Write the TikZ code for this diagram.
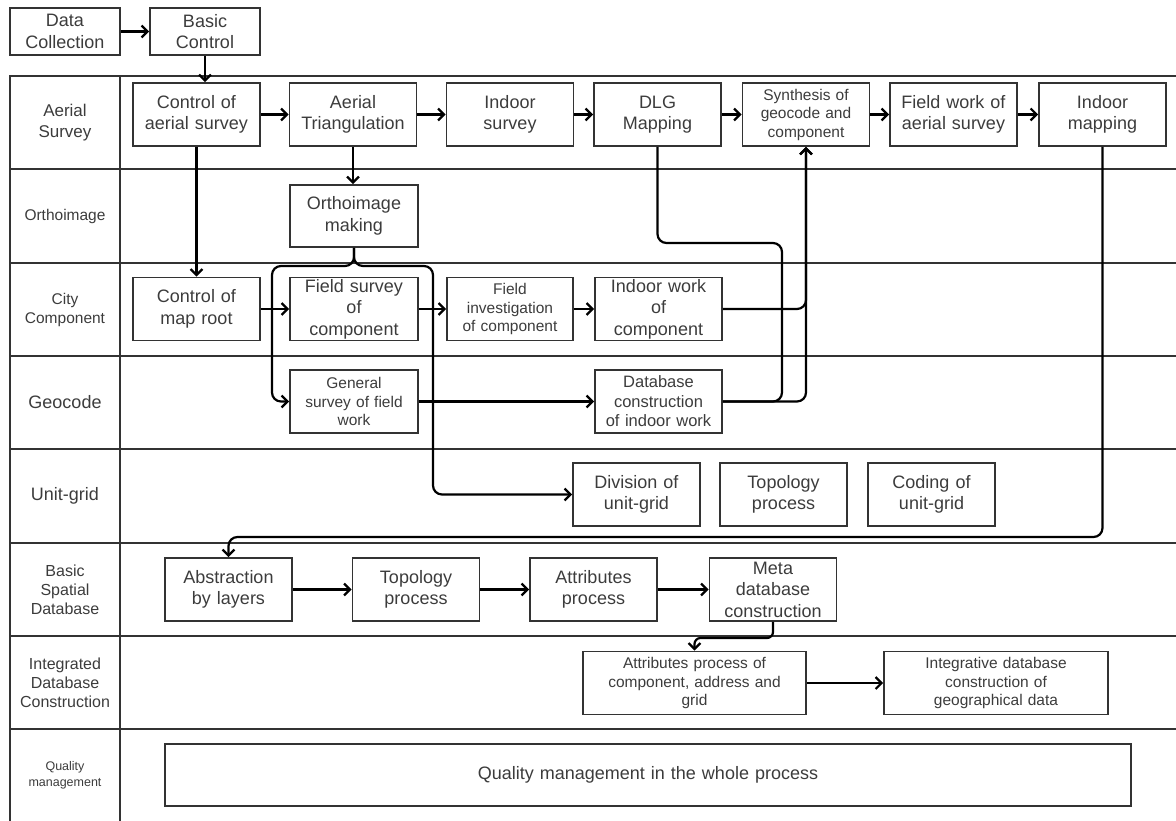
\documentclass[tikz,border=0pt]{standalone}
\usepackage{fontspec}
\setmainfont{Liberation Sans}
\usetikzlibrary{arrows.meta}
\definecolor{boxgray}{HTML}{333333}
\definecolor{txtgray}{HTML}{3C3C3C}

\begin{document}
\begin{tikzpicture}[x=1pt,y=-1pt,
box/.style={draw=boxgray,line width=1.8pt,rectangle,minimum height=63pt,text width=127pt,
    inner sep=0pt,align=center,text=txtgray,font=\fontsize{18}{21.5}\selectfont},
small/.style={font=\fontsize{15.5}{18.5}\selectfont},
lane/.style={text=txtgray,align=center,inner sep=0pt},
conn/.style={draw=black,line width=2.2pt,rounded corners=9pt,-{Straight Barb[length=6pt,width=12pt]}},
link/.style={draw=black,line width=2.2pt,rounded corners=9pt}]
\useasboundingbox (0,0) rectangle (1176,821);

\draw[boxgray,line width=1.8pt] (10,821) -- (10,76) -- (1176,76);
\draw[boxgray,line width=1.8pt] (120,76) -- (120,821);
\draw[boxgray,line width=1.8pt] (10,169) -- (1176,169) (10,263) -- (1176,263)
    (10,356) -- (1176,356) (10,449) -- (1176,449) (10,543) -- (1176,543)
    (10,636) -- (1176,636) (10,729) -- (1176,729);

\node (laer) [lane,font=\fontsize{17}{21}\selectfont] at (65,122.5) {Aerial\\Survey};
\node (lort) [lane,font=\fontsize{15.5}{19}\selectfont] at (65,216) {Orthoimage};
\node (lcit) [lane,font=\fontsize{15.5}{19}\selectfont] at (65,309.5) {City\\Component};
\node (lgeo) [lane,font=\fontsize{18}{21}\selectfont] at (65,402.5) {Geocode};
\node (luni) [lane,font=\fontsize{18}{21}\selectfont] at (65,496) {Unit-grid};
\node (lbsd) [lane,font=\fontsize{16}{19}\selectfont] at (65,589.5) {Basic\\Spatial\\Database};
\node (lidc) [lane,font=\fontsize{16}{19}\selectfont] at (65,682.5) {Integrated\\Database\\Construction};
\node (lqua) [lane,font=\fontsize{12.5}{16}\selectfont] at (65,775) {Quality\\management};

\node (dc) [box,text width=110pt,minimum height=47pt] at (65,31.5) {Data\\Collection};
\node (bc) [box,text width=110pt,minimum height=47pt] at (205,31.5) {Basic\\Control};

\node (cas) [box] at (196.5,114.5) {Control of\\aerial survey};
\node (atr) [box] at (353,114.5) {Aerial\\Triangulation};
\node (isv) [box] at (510,114.5) {Indoor\\survey};
\node (dlg) [box] at (657.5,114.5) {DLG\\Mapping};
\node (syn) [box,small] at (806,114.5) {Synthesis of\\geocode and\\component};
\node (fwa) [box] at (953.5,114.5) {Field work of\\aerial survey};
\node (im) [box] at (1102.5,114.5) {Indoor\\mapping};

\node (om) [box,text width=128pt,minimum height=62pt] at (354,216) {Orthoimage\\making};

\node (cmr) [box] at (196.5,309) {Control of\\map root};
\node (fsc) [box,text width=128pt] at (354,309) {Field survey\\of\\component};
\node (fic) [box,small,text width=126pt] at (510,309) {Field\\investigation\\of component};
\node (iwc) [box] at (658.5,309) {Indoor work\\of\\component};

\node (gs) [box,small,text width=128pt] at (354,401.5) {General\\survey of field\\work};
\node (dbc) [box,font=\fontsize{16.5}{19.5}\selectfont] at (658.5,401.5) {Database\\construction\\of indoor work};

\node (dug) [box] at (636.5,494.5) {Division of\\unit-grid};
\node (tpg) [box] at (783.5,494.5) {Topology\\process};
\node (cug) [box] at (931.5,494.5) {Coding of\\unit-grid};

\node (abs) [box] at (228.5,589.5) {Abstraction\\by layers};
\node (tpb) [box] at (416,589.5) {Topology\\process};
\node (atp) [box] at (593.5,589.5) {Attributes\\process};
\node (mdc) [box] at (773,589.5) {Meta\\database\\construction};

\node (apc) [box,small,text width=223pt] at (694.5,683) {Attributes process of\\component, address and\\grid};
\node (idc) [box,small,text width=224pt] at (996,683) {Integrative database\\construction of\\geographical data};

\node (qm) [box,text width=966pt,minimum height=62pt] at (648,775) {Quality management in the whole process};

\draw[conn] (dc) -- (bc);
\draw[conn] (bc.south) -- (bc.south |- cas.north);
\draw[conn] (cas) -- (atr);
\draw[conn] (atr) -- (isv);
\draw[conn] (isv) -- (dlg);
\draw[conn] (dlg) -- (syn);
\draw[conn] (syn) -- (fwa);
\draw[conn] (fwa) -- (im);
\draw[conn] (cas) -- (cmr);
\draw[conn] (atr.south) -- (atr.south |- om.north);
\draw[conn] (cmr) -- (fsc);
\draw[conn] (fsc) -- (fic);
\draw[conn] (fic) -- (iwc);
\draw[conn] (om.south) |- (272,266) |- (gs.west);
\draw[conn] (om.south) |- (433,266) |- (dug.west);
\draw[conn] (gs) -- (dbc);
\draw[link] (dlg.south) |- (782,243) |- (dbc.east);
\draw[conn] (iwc.east) -| (syn.south);
\draw[conn] (dbc.east) -| (syn.south);
\draw[conn] (im.south) |- (abs.north |- 0,537) -- (abs.north);
\draw[conn] (abs) -- (tpb);
\draw[conn] (tpb) -- (atp);
\draw[conn] (atp) -- (mdc);
\draw[conn,rounded corners=6pt] (mdc.south) |- (apc.north |- 0,638) -- (apc.north);
\draw[conn] (apc) -- (idc);
\end{tikzpicture}
\end{document}
